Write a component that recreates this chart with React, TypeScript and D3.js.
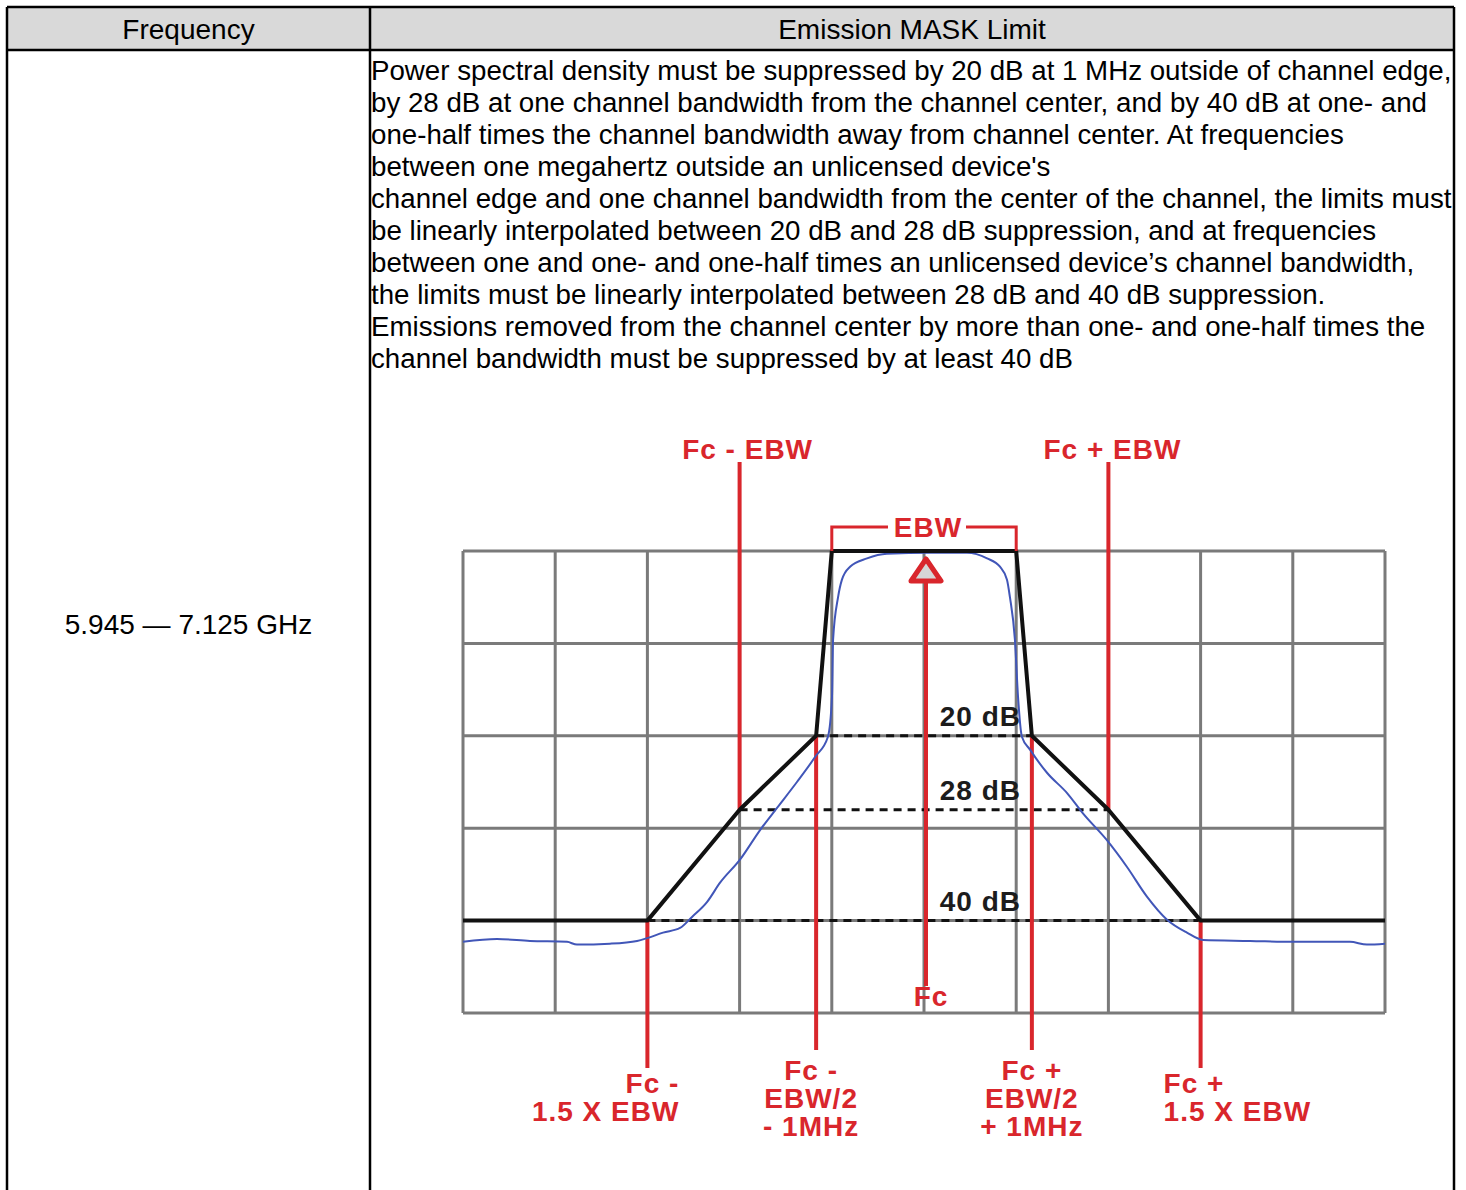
import * as d3 from 'd3';
import { useEffect, useRef } from 'react';

// table text
const headers = ['Frequency', 'Emission MASK Limit'];
const bandLabel = '5.945 \u2014 7.125 GHz';
const ruleLines = [
  'Power spectral density must be suppressed by 20 dB at 1 MHz outside of channel edge,',
  'by 28 dB at one channel bandwidth from the channel center, and by 40 dB at one- and',
  'one-half times the channel bandwidth away from channel center. At frequencies',
  "between one megahertz outside an unlicensed device's",
  'channel edge and one channel bandwidth from the center of the channel, the limits must',
  'be linearly interpolated between 20 dB and 28 dB suppression, and at frequencies',
  'between one and one- and one-half times an unlicensed device\u2019s channel bandwidth,',
  'the limits must be linearly interpolated between 28 dB and 40 dB suppression.',
  'Emissions removed from the channel center by more than one- and one-half times the',
  'channel bandwidth must be suppressed by at least 40 dB',
];

// grid (offset from Fc in EBW units, suppression in dB)
const gridCols = [-2.5, -2, -1.5, -1, -0.5, 0, 0.5, 1, 1.5, 2, 2.5];
const gridRows = [0, 10, 20, 30, 40, 50];

// emission mask
const maskX = [-2.5, -1.5, -1.0, -0.585, -0.5, 0.5, 0.585, 1.0, 1.5, 2.5];
const maskDb = [40, 40, 28, 20, 0, 0, 20, 28, 40, 40];

// suppression levels (dashed)
const levelDb = [20, 28, 40];
const levelHalfWidth = [0.585, 1.0, 1.5];
const levelLabels = ['20 dB', '28 dB', '40 dB'];

const specX = [-2.5, -2.316, -2.137, -1.936, -1.882, -1.703, -1.556, -1.502, -1.415, -1.323, -1.258, -1.177,
  -1.106, -0.998, -0.889, -0.797, -0.689, -0.591, -0.521, -0.499, -0.493, -0.466, -0.445, -0.401, -0.309,
  -0.201, 0.033, 0.233, 0.342, 0.412, 0.45, 0.466, 0.493, 0.51, 0.531, 0.575, 0.667, 0.776, 0.862, 0.992,
  1.101, 1.209, 1.318, 1.426, 1.513, 1.768, 2.001, 2.31, 2.402, 2.5];
const specDb = [42.3, 42.0, 42.2, 42.3, 42.6, 42.5, 42.2, 41.9, 41.3, 40.8, 39.6, 38.0,
  35.9, 33.4, 30.2, 27.8, 25.0, 22.3, 20.1, 15.8, 9.6, 5.0, 3.1, 1.7, 0.8,
  0.3, 0.2, 0.2, 0.8, 1.7, 3.1, 5.0, 9.6, 15.8, 20.1, 21.5, 24.0, 26.2, 28.4, 31.3,
  34.2, 37.4, 39.9, 41.3, 42.1, 42.2, 42.3, 42.3, 42.6, 42.5];

// frequency markers
const markerX = [-1.5, -1.0, -0.585, 0.585, 1.0, 1.5];
const markerDb = [40, 28, 20, 20, 28, 40];
const markerLabels = [
  ['Fc -', '1.5 X EBW'],
  ['Fc - EBW'],
  ['Fc -', 'EBW/2', '- 1MHz'],
  ['Fc +', 'EBW/2', '+ 1MHz'],
  ['Fc + EBW'],
  ['Fc +', '1.5 X EBW'],
];
const centerLabel = 'Fc';
const bwLabel = 'EBW';

const FONT = "'Liberation Sans', Arial, sans-serif";
const RED = '#d9262c';

function App() {
  const svgRef = useRef<SVGSVGElement>(null);

  useEffect(() => {
    const W = 1466;
    const H = 1190;
    const svg = d3.select(svgRef.current).attr('width', W).attr('height', H);
    svg.selectAll('*').remove();

    // ---- table ----
    const tL = 7, tR = 1454, tT = 7, hB = 50, colX = 370;
    svg.append('rect').attr('x', tL).attr('y', tT).attr('width', tR - tL).attr('height', hB - tT)
      .attr('fill', '#d9d9d9');
    const border = [
      [tL, tT, tR, tT], [tL, hB, tR, hB], [tL, tT, tL, H + 5], [tR, tT, tR, H + 5], [colX, tT, colX, H + 5],
    ];
    svg.selectAll('line.border').data(border).enter().append('line')
      .attr('class', 'border')
      .attr('x1', d => d[0]).attr('y1', d => d[1]).attr('x2', d => d[2]).attr('y2', d => d[3])
      .attr('stroke', '#000').attr('stroke-width', 2.5);

    const headX = [(tL + colX) / 2, (colX + tR) / 2];
    svg.selectAll('text.head').data(headers).enter().append('text')
      .attr('class', 'head')
      .attr('x', (d, i) => headX[i]).attr('y', 39)
      .attr('text-anchor', 'middle')
      .style('font', `28px ${FONT}`).attr('fill', '#000')
      .text(d => d);

    svg.append('text').attr('x', (tL + colX) / 2).attr('y', 634).attr('text-anchor', 'middle')
      .style('font', `28px ${FONT}`).text(bandLabel);

    svg.selectAll('text.rule').data(ruleLines).enter().append('text')
      .attr('class', 'rule')
      .attr('x', 371).attr('y', (d, i) => 79.5 + i * 32.1)
      .style('font', `27.7px ${FONT}`).attr('fill', '#000')
      .text(d => d);

    // ---- mask diagram ----
    const x = d3.scaleLinear().domain([-2.5, 2.5]).range([463, 1385]);
    const y = d3.scaleLinear().domain([0, 50]).range([551, 1013]);

    const grid = svg.append('g');
    grid.selectAll('line.v').data(gridCols).enter().append('line')
      .attr('x1', d => x(d)).attr('x2', d => x(d)).attr('y1', y(0)).attr('y2', y(50))
      .attr('stroke', '#7a7a7a').attr('stroke-width', 3);
    grid.selectAll('line.h').data(gridRows).enter().append('line')
      .attr('x1', x(-2.5)).attr('x2', x(2.5)).attr('y1', d => y(d)).attr('y2', d => y(d))
      .attr('stroke', '#7a7a7a').attr('stroke-width', 3);

    // dashed suppression levels
    svg.selectAll('line.level').data(levelDb).enter().append('line')
      .attr('x1', (d, i) => x(-levelHalfWidth[i])).attr('x2', (d, i) => x(levelHalfWidth[i]))
      .attr('y1', d => y(d)).attr('y2', d => y(d))
      .attr('stroke', '#111').attr('stroke-width', 3).attr('stroke-dasharray', '8,6');

    // red marker lines
    const topEnd = 462;
    const botEnd = (d: number) => (Math.abs(d) > 1.2 ? 1068 : 1050);
    svg.selectAll('line.marker').data(markerX).enter().append('line')
      .attr('x1', d => x(d)).attr('x2', d => x(d))
      .attr('y1', (d, i) => y(markerDb[i]))
      .attr('y2', d => (Math.abs(d) === 1 ? topEnd : botEnd(d)))
      .attr('stroke', RED).attr('stroke-width', 4);

    // Fc line + triangle
    svg.append('line').attr('x1', x(0) + 2).attr('x2', x(0) + 2).attr('y1', 580).attr('y2', 986)
      .attr('stroke', RED).attr('stroke-width', 4);
    const cx = x(0) + 2;
    const tri = d3.path();
    tri.moveTo(cx, 559); tri.lineTo(cx + 15, 581); tri.lineTo(cx - 15, 581); tri.closePath();
    svg.append('path').attr('d', tri.toString()).attr('fill', '#d6d6d6')
      .attr('stroke', RED).attr('stroke-width', 5).attr('stroke-linejoin', 'round');

    // spectrum trace
    const spec = specX.map((v, i) => [v, specDb[i]] as [number, number]);
    svg.append('path').datum(spec)
      .attr('d', d3.line<[number, number]>().x(d => x(d[0])).y(d => y(d[1])).curve(d3.curveMonotoneX))
      .attr('fill', 'none').attr('stroke', '#4156b8').attr('stroke-width', 2);

    // mask line
    const mask = maskX.map((v, i) => [v, maskDb[i]] as [number, number]);
    svg.append('path').datum(mask)
      .attr('d', d3.line<[number, number]>().x(d => x(d[0])).y(d => y(d[1])))
      .attr('fill', 'none').attr('stroke', '#111').attr('stroke-width', 4).attr('stroke-linejoin', 'round');

    // EBW bracket
    const bY = 527;
    const bw = d3.path();
    bw.moveTo(x(-0.5), y(0)); bw.lineTo(x(-0.5), bY); bw.lineTo(x(0) - 36, bY);
    bw.moveTo(x(0) + 42, bY); bw.lineTo(x(0.5), bY); bw.lineTo(x(0.5), y(0));
    svg.append('path').attr('d', bw.toString()).attr('fill', 'none').attr('stroke', RED).attr('stroke-width', 3);

    const labelStyle = (sel: any, color: string) =>
      sel.style('font', `bold 28px ${FONT}`).style('letter-spacing', '1px').attr('fill', color);

    labelStyle(svg.append('text').attr('x', x(0) + 4).attr('y', 537).attr('text-anchor', 'middle').text(bwLabel), RED);
    labelStyle(svg.append('text').attr('x', x(0) + 7).attr('y', 1006).attr('text-anchor', 'middle').text(centerLabel), RED);

    // level labels
    svg.selectAll('text.lvl').data(levelLabels).enter().append('text')
      .attr('class', 'lvl')
      .attr('x', 1021).attr('y', (d, i) => y(levelDb[i]) - 10)
      .attr('text-anchor', 'end')
      .call((s: any) => labelStyle(s, '#1c1c1c'))
      .text(d => d);

    // marker labels
    markerX.forEach((m, i) => {
      const lines = markerLabels[i];
      let anchor = 'middle', lx = x(m), ly0 = 1080;
      if (Math.abs(m) === 1) { lx = x(m) + (m < 0 ? 8 : 4); ly0 = 459; }
      else if (m === -1.5) { anchor = 'end'; lx = x(m) + 32; ly0 = 1093; }
      else if (m === 1.5) { anchor = 'start'; lx = x(m) - 37; ly0 = 1093; }
      else { lx = x(m) + (m < 0 ? -5 : 0); }
      const t = svg.append('text').attr('text-anchor', anchor);
      labelStyle(t, RED);
      lines.forEach((ln, j) => {
        t.append('tspan').attr('x', lx).attr('y', ly0 + j * 28).text(ln);
      });
    });
  });

  return (
    <div style={{ position: 'absolute', left: 0, top: 0 }}>
      <svg ref={svgRef} style={{ display: 'block', background: '#fff' }}></svg>
    </div>
  );
}

export default App;
